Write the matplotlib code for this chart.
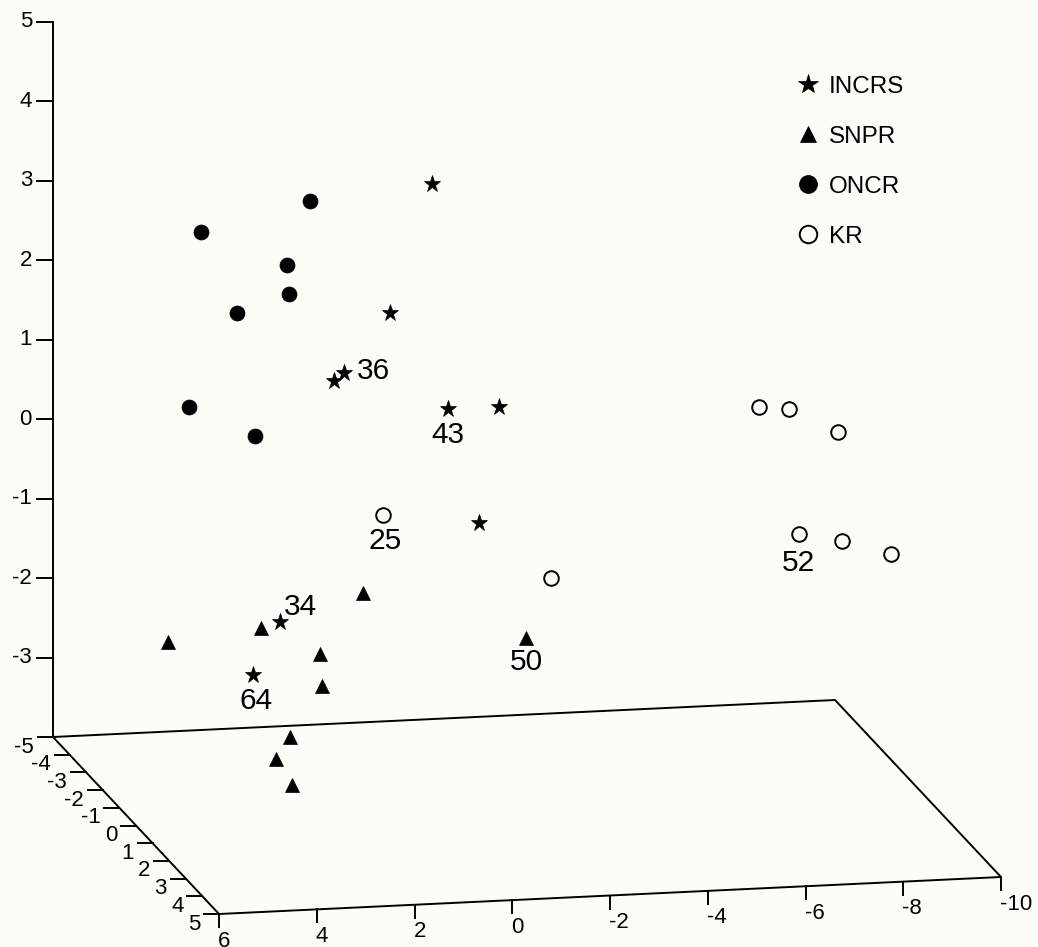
import numpy as np
import matplotlib
matplotlib.use("Agg")
import matplotlib.pyplot as plt
from matplotlib.lines import Line2D

plt.rcParams['font.family'] = ['Liberation Sans', 'DejaVu Sans']

# ---------------- data (x, depth, z) ----------------
incrs_x = [-0.06, 0.80, 1.74, 1.95, -0.38, -1.43, -1.02, 3.05, 3.61]
incrs_d = [0.0, 0.0, 0.0, 0.0, 0.0, 0.0, 0.0, 0.0, 0.0]
incrs_z = [3.89, 2.30, 1.57, 1.47, 1.05, 1.05, -0.40, -1.53, -2.18]

snpr_x = [5.35, 3.44, 1.36, 2.24, 2.19, -1.98, 2.85, 3.14, 2.81]
snpr_d = [0.0, 0.0, 0.0, 0.0, 0.0, 0.0, 0.0, 0.0, 0.0]
snpr_z = [-1.71, -1.59, -1.21, -1.95, -2.36, -1.87, -2.98, -3.25, -3.58]

oncr_x = [2.44, 4.67, 2.91, 2.87, 3.93, 4.92, 3.57]
oncr_d = [0.0, 0.0, 0.0, 0.0, 0.0, 0.0, 0.0]
oncr_z = [3.75, 3.43, 2.96, 2.60, 2.39, 1.23, 0.83]

kr_x = [0.95, -2.49, -6.75, -7.36, -8.36, -7.57, -8.45, -9.45]
kr_d = [0.0, 0.0, 0.0, 0.0, 0.0, 0.0, 0.0, 0.0]
kr_z = [-0.24, -1.13, 0.89, 0.85, 0.53, -0.73, -0.84, -1.03]

group_names = ["INCRS", "SNPR", "ONCR", "KR"]

# point annotations: (group, index, text)
point_labels = [("INCRS", 2, "36"), ("INCRS", 4, "43"), ("KR", 0, "25"),
                ("INCRS", 7, "34"), ("INCRS", 8, "64"), ("SNPR", 5, "50"),
                ("KR", 5, "52")]

z_ticks = [5, 4, 3, 2, 1, 0, -1, -2, -3]
d_ticks = [-5, -4, -3, -2, -1, 0, 1, 2, 3, 4, 5]
x_ticks = [6, 4, 2, 0, -2, -4, -6, -8, -10]

# ---------------- oblique projection (layout) ----------------
X_MAX, X_MIN = 6.0, -10.0
D_MIN, D_MAX = -5.0, 5.0
Z_FLOOR, Z_TOP = -4.0, 5.0
ORIGIN = np.array([53.0, 737.0])        # screen position of (6, -5, -4)
EX = np.array([-48.875, 2.3125])        # per +1 in x
ED = np.array([16.6, 17.7])             # per +1 in depth
EZ = np.array([0.0, -79.5])             # per +1 in z


def proj(x, d, z):
    x = np.asarray(x, float); d = np.asarray(d, float); z = np.asarray(z, float)
    sx = ORIGIN[0] + (x - X_MAX) * EX[0] + (d - D_MIN) * ED[0] + (z - Z_FLOOR) * EZ[0]
    sy = ORIGIN[1] + (x - X_MAX) * EX[1] + (d - D_MIN) * ED[1] + (z - Z_FLOOR) * EZ[1]
    return sx, sy


W, H = 1038, 947
BG = "#fdfdf7"
fig = plt.figure(figsize=(W / 100, H / 100), dpi=100)
fig.patch.set_facecolor(BG)
ax = fig.add_axes([0, 0, 1, 1])
ax.set_facecolor(BG)
ax.set_xlim(0, W)
ax.set_ylim(H, 0)
ax.axis("off")

LW = 1.4
TICK_FS = 16

# vertical axis
vx, vy = proj([X_MAX, X_MAX], [D_MIN, D_MIN], [Z_FLOOR, Z_TOP])
ax.plot(vx, vy, color="black", lw=LW, solid_capstyle="butt")
for t in z_ticks:
    sx, sy = proj(X_MAX, D_MIN, t)
    ax.plot([sx - 16, sx], [sy, sy], color="black", lw=LW)
    ax.text(sx - 21, sy, f"{t}", ha="right", va="center", fontsize=TICK_FS)

# floor parallelogram
cx = [X_MAX, X_MIN, X_MIN, X_MAX, X_MAX]
cd = [D_MIN, D_MIN, D_MAX, D_MAX, D_MIN]
fx, fy = proj(cx, cd, [Z_FLOOR] * 5)
ax.plot(fx, fy, color="black", lw=LW, solid_joinstyle="miter")

# depth ticks (left edge)
for t in d_ticks:
    sx, sy = proj(X_MAX, t, Z_FLOOR)
    ax.plot([sx - 15, sx], [sy, sy], color="black", lw=LW)
    ax.text(sx - 19, sy + 10, f"{t}", ha="right", va="center", fontsize=TICK_FS)

# x ticks (front edge)
for t in x_ticks:
    sx, sy = proj(t, D_MAX, Z_FLOOR)
    ax.plot([sx, sx], [sy, sy + 13], color="black", lw=LW)
    ax.text(sx - 1, sy + 27, f"{t}", ha="left", va="center", fontsize=TICK_FS)

# ---------------- points ----------------
styles = {
    "INCRS": dict(marker="*", ms=12.5, mfc="black", mec="black", mew=0.5),
    "SNPR": dict(marker="^", ms=10, mfc="black", mec="black", mew=0.5),
    "ONCR": dict(marker="o", ms=10.8, mfc="black", mec="black", mew=0.5),
    "KR": dict(marker="o", ms=10.5, mfc="none", mec="black", mew=1.4),
}
data = {
    "INCRS": (incrs_x, incrs_d, incrs_z),
    "SNPR": (snpr_x, snpr_d, snpr_z),
    "ONCR": (oncr_x, oncr_d, oncr_z),
    "KR": (kr_x, kr_d, kr_z),
}
screen = {}
handles = []
for g in group_names:
    sx, sy = proj(*data[g])
    screen[g] = (sx, sy)
    ax.plot(sx, sy, ls="none", **styles[g])
    st = dict(styles[g])
    st["ms"] = st["ms"] * 1.2
    handles.append(Line2D([], [], ls="none", **st))

offsets = {"36": (29, 2), "43": (0, -26), "25": (2, -26), "34": (20, 15),
           "64": (3, -26), "50": (0, -24), "52": (-1, -29)}
for g, i, txt in point_labels:
    sx, sy = screen[g]
    ax.annotate(txt, (sx[i], sy[i]), xytext=offsets[txt], textcoords="offset pixels",
                ha="center", va="center", fontsize=21.5)

leg = ax.legend(handles, group_names, loc="upper left", bbox_to_anchor=(0.755, 0.933),
                frameon=False, fontsize=17.5, handlelength=1.0, handletextpad=0.35,
                labelspacing=1.15, borderpad=0)

fig.savefig("out.png", dpi=100, facecolor=BG)
